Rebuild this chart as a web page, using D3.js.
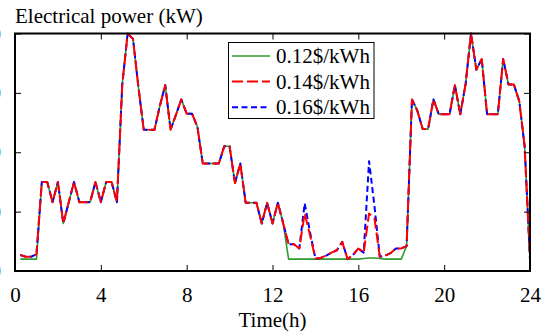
<!DOCTYPE html>
<html>
<head>
<meta charset="utf-8">
<script src="https://cdn.jsdelivr.net/npm/d3@7"></script>
<style>
  body { margin: 0; background: #fff; }
  svg { display: block; }
  text { font-family: "Liberation Serif", "Times New Roman", serif; fill: #000; }
</style>
</head>
<body>
<svg id="chart" width="550" height="331"></svg>
<script>
// time in hours, 15 min steps from 0.25 to 24
const hours = d3.range(1, 97).map(k => k * 0.25)

// electrical power, 0.14$/kWh
const p014 = [
  0.27, 0.24, 0.24, 0.28, 1.5, 1.5, 1.16, 1.5,
  0.8, 1.15, 1.5, 1.16, 1.16, 1.16, 1.5, 1.16,
  1.5, 1.5, 1.16, 3.15, 4.0, 3.91, 3.1, 2.38,
  2.38, 2.38, 2.78, 3.13, 2.38, 2.63, 2.89, 2.65,
  2.65, 2.43, 1.81, 1.81, 1.81, 1.81, 2.1, 2.1,
  1.48, 1.81, 1.15, 1.15, 1.15, 0.8, 1.15, 0.8,
  1.15, 0.8, 0.45, 0.45, 0.38, 0.97, 0.6, 0.21,
  0.22, 0.26, 0.31, 0.35, 0.49, 0.2, 0.27, 0.38,
  0.31, 0.97, 0.89, 0.24, 0.26, 0.3, 0.38, 0.38,
  0.42, 2.89, 2.7, 2.39, 2.39, 2.89, 2.64, 2.64,
  2.64, 3.13, 2.64, 3.15, 4.0, 3.39, 3.57, 2.64,
  2.64, 2.64, 3.57, 3.14, 3.14, 2.86, 2.1, 0.2
]

// 0.12$/kWh
const p012 = [
  0.2, 0.2, 0.2, 0.2, 1.5, 1.5, 1.16, 1.5,
  0.8, 1.15, 1.5, 1.16, 1.16, 1.16, 1.5, 1.16,
  1.5, 1.5, 1.16, 3.15, 4.0, 3.91, 3.1, 2.38,
  2.38, 2.38, 2.78, 3.13, 2.38, 2.63, 2.89, 2.65,
  2.65, 2.43, 1.81, 1.81, 1.81, 1.81, 2.1, 2.1,
  1.48, 1.81, 1.15, 1.15, 1.15, 0.8, 1.15, 0.8,
  1.15, 0.8, 0.2, 0.2, 0.2, 0.2, 0.2, 0.2,
  0.2, 0.2, 0.2, 0.2, 0.2, 0.2, 0.2, 0.2,
  0.21, 0.22, 0.22, 0.21, 0.2, 0.2, 0.2, 0.2,
  0.42, 2.89, 2.7, 2.39, 2.39, 2.89, 2.64, 2.64,
  2.64, 3.13, 2.64, 3.15, 4.0, 3.39, 3.57, 2.64,
  2.64, 2.64, 3.57, 3.14, 3.14, 2.86, 2.1, 0.2
]

// 0.16$/kWh
const p016 = [
  0.27, 0.24, 0.24, 0.28, 1.5, 1.5, 1.16, 1.5,
  0.8, 1.15, 1.5, 1.16, 1.16, 1.16, 1.5, 1.16,
  1.5, 1.5, 1.16, 3.15, 4.0, 3.91, 3.1, 2.38,
  2.38, 2.38, 2.78, 3.13, 2.38, 2.63, 2.89, 2.65,
  2.65, 2.43, 1.81, 1.81, 1.81, 1.81, 2.1, 2.1,
  1.48, 1.81, 1.15, 1.15, 1.15, 0.8, 1.15, 0.8,
  1.15, 0.8, 0.45, 0.45, 0.38, 1.14, 0.65, 0.21,
  0.22, 0.26, 0.31, 0.35, 0.49, 0.2, 0.27, 0.38,
  0.31, 1.85, 1.1, 0.24, 0.26, 0.3, 0.38, 0.38,
  0.42, 2.89, 2.7, 2.39, 2.39, 2.89, 2.64, 2.64,
  2.64, 3.13, 2.64, 3.15, 4.0, 3.39, 3.57, 2.64,
  2.64, 2.64, 3.57, 3.14, 3.14, 2.86, 2.1, 0.2
]

const xTicks = [0, 4, 8, 12, 16, 20, 24]
const yTicks = [0, 1, 2, 3, 4]

const mLeft = 15, mRight = 530, mTop = 33.5, mBottom = 271

const svg = d3.select("#chart")

const x = d3.scaleLinear().domain([0, 24]).range([mLeft, mRight])
const y = d3.scaleLinear().domain([0, 4]).range([mBottom, mTop])

// lines first, frame drawn over them
const series = [
  { name: "0.12$/kWh", values: p012, color: "#2e9b2e", width: 1.6, dash: null },
  { name: "0.16$/kWh", values: p016, color: "#0000ff", width: 2, dash: "6,3.5" },
  { name: "0.14$/kWh", values: p014, color: "#ff0000", width: 2, dash: "11,4" }
]

const line = d3.line()
  .x((d, i) => x(hours[i]))
  .y(d => y(d))

series.forEach(s => {
  svg.append("path")
    .datum(s.values)
    .attr("d", line)
    .attr("fill", "none")
    .attr("stroke", s.color)
    .attr("stroke-width", s.width)
    .attr("stroke-dasharray", s.dash)
    .attr("stroke-linejoin", "round")
})

// axes, ticks inward on all four sides
const bottomAxis = d3.axisBottom(x).tickValues(xTicks).tickSizeInner(-6).tickSizeOuter(0).tickPadding(14)
const topAxis = d3.axisTop(x).tickValues(xTicks).tickSizeInner(-6).tickSizeOuter(0).tickFormat("")
const leftAxis = d3.axisLeft(y).tickValues(yTicks).tickSizeInner(-6).tickSizeOuter(0).tickPadding(14)
const rightAxis = d3.axisRight(y).tickValues(yTicks).tickSizeInner(-6).tickSizeOuter(0).tickFormat("")

const gb = svg.append("g").attr("transform", "translate(0," + mBottom + ")").call(bottomAxis)
const gt = svg.append("g").attr("transform", "translate(0," + mTop + ")").call(topAxis)
const gl = svg.append("g").attr("transform", "translate(" + mLeft + ",0)").call(leftAxis)
const gr = svg.append("g").attr("transform", "translate(" + mRight + ",0)").call(rightAxis)

;[gb, gt, gl, gr].forEach(g => {
  g.select(".domain").remove()
  g.selectAll(".tick line").attr("stroke", "#000").attr("stroke-width", 1)
  g.selectAll("text")
    .style("font-family", "'Liberation Serif', serif")
    .style("font-size", "21px")
    .attr("fill", "#000")
})
gb.selectAll("text").attr("dy", "0.71em").attr("y", 16)

svg.append("rect")
  .attr("x", mLeft).attr("y", mTop)
  .attr("width", mRight - mLeft).attr("height", mBottom - mTop)
  .attr("fill", "none")
  .attr("stroke", "#000")
  .attr("stroke-width", 2)

// titles
svg.append("text")
  .attr("x", 15).attr("y", 23)
  .style("font-size", "21px")
  .text("Electrical power (kW)")

svg.append("text")
  .attr("x", (mLeft + mRight) / 2).attr("y", 327)
  .attr("text-anchor", "middle")
  .style("font-size", "21px")
  .text("Time(h)")

// legend, listed in 0.12 / 0.14 / 0.16 order
const legendItems = [series[0], series[2], series[1]]
const lg = svg.append("g")
lg.append("rect")
  .attr("x", 228.5).attr("y", 42.5)
  .attr("width", 145.5).attr("height", 76)
  .attr("fill", "#fff")
  .attr("stroke", "#000")
  .attr("stroke-width", 1)

legendItems.forEach((s, i) => {
  const ly = 56 + i * 25.6
  lg.append("line")
    .attr("x1", 232).attr("x2", 270)
    .attr("y1", ly).attr("y2", ly)
    .attr("stroke", s.color)
    .attr("stroke-width", s.width)
    .attr("stroke-dasharray", s.dash)
  lg.append("text")
    .attr("x", 276).attr("y", ly + 7)
    .style("font-size", "21px")
    .text(s.name)
})
</script>
</body>
</html>
